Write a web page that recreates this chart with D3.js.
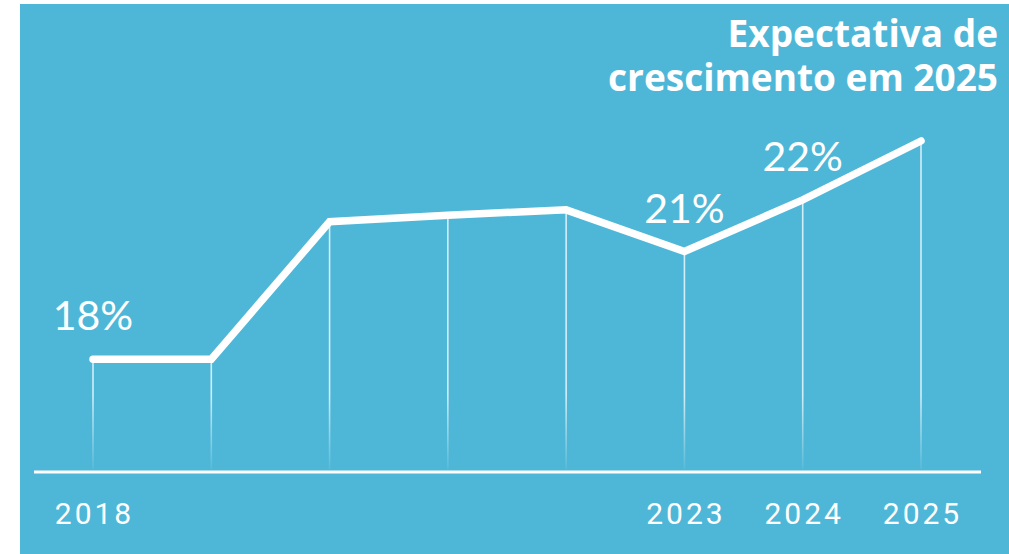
<!DOCTYPE html>
<html>
<head>
<meta charset="utf-8">
<script src="https://cdn.jsdelivr.net/npm/d3@7"></script>
<style>
  html, body { margin: 0; padding: 0; background: #ffffff; }
  svg { display: block; }
</style>
</head>
<body>
<svg id="chart" width="1009" height="554"></svg>
<script>
// ---- data ----
const years = ["2018", "2019", "2020", "2021", "2022", "2023", "2024", "2025"];
const values = [34.1, 34.1, 75.6, 77.6, 79.2, 66.6, 82.2, 100];
const yearLabels = ["2018", "", "", "", "", "2023", "2024", "2025"];
const pctLabels = ["18%", "", "", "", "", "21%", "22%", ""];
const titleLines = ["Expectativa de", "crescimento em 2025"];

// ---- layout ----
const W = 1009, H = 554;
const svg = d3.select("#chart");

svg.append("rect")
  .attr("x", 20).attr("y", 4)
  .attr("width", W - 20).attr("height", H - 4)
  .attr("fill", "#4eb7d8");

const x = d3.scalePoint().domain(years).range([93, 921]);
const y = d3.scaleLinear().domain([0, 100]).range([472, 141]);
const baseY = y(0);

const defs = svg.append("defs");
const grad = defs.append("linearGradient")
  .attr("id", "fade")
  .attr("gradientUnits", "userSpaceOnUse")
  .attr("x1", 0).attr("x2", 0)
  .attr("y1", 395).attr("y2", 470);
grad.append("stop").attr("offset", 0).attr("stop-color", "#fff").attr("stop-opacity", 0.75);
grad.append("stop").attr("offset", 1).attr("stop-color", "#fff").attr("stop-opacity", 0.05);

// vertical drop lines
svg.append("g").selectAll("line")
  .data(years)
  .join("line")
  .attr("x1", d => x(d)).attr("x2", d => x(d))
  .attr("y1", (d, i) => y(values[i]))
  .attr("y2", baseY - 3)
  .attr("stroke", "url(#fade)")
  .attr("stroke-width", 1.6);

// baseline
svg.append("line")
  .attr("x1", 34).attr("x2", 981)
  .attr("y1", baseY).attr("y2", baseY)
  .attr("stroke", "#fff").attr("stroke-width", 3);

// main line
const line = d3.line()
  .x((d, i) => x(years[i]))
  .y(d => y(d));
svg.append("path")
  .datum(values)
  .attr("d", line)
  .attr("fill", "none")
  .attr("stroke", "#fff")
  .attr("stroke-width", 7.5)
  .attr("stroke-linecap", "round")
  .attr("stroke-linejoin", "miter");

// percentage labels
svg.append("g").selectAll("text")
  .data(years)
  .join("text")
  .attr("x", d => x(d))
  .attr("y", (d, i) => y(values[i]) - 29)
  .attr("text-anchor", "middle")
  .attr("fill", "#fff")
  .attr("font-family", "Lato, 'Open Sans', sans-serif")
  .attr("font-weight", 400)
  .attr("font-size", 41)
  .text((d, i) => pctLabels[i]);

// year labels
svg.append("g").selectAll("text")
  .data(years)
  .join("text")
  .attr("x", d => x(d) + 1.5)
  .attr("y", 524)
  .attr("text-anchor", "middle")
  .attr("fill", "#fff")
  .attr("font-family", "Roboto, sans-serif")
  .attr("font-size", 30)
  .attr("letter-spacing", 3)
  .text((d, i) => yearLabels[i]);

// title (one text block, two lines)
const title = svg.append("text")
  .attr("text-anchor", "end")
  .attr("fill", "#fff")
  .attr("font-family", "'Open Sans', sans-serif")
  .attr("font-weight", 700)
  .attr("font-size", 37);
title.selectAll("tspan")
  .data(titleLines)
  .join("tspan")
  .attr("x", 998)
  .attr("y", (d, i) => 47 + i * 44)
  .text(d => d);
</script>
</body>
</html>
